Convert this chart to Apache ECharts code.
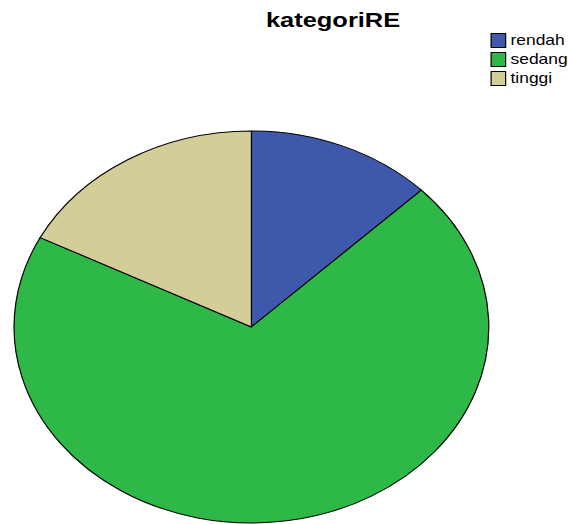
<!DOCTYPE html>
<html>
<head>
<meta charset="utf-8">
<script src="https://cdn.jsdelivr.net/npm/echarts@6/dist/echarts.min.js"></script>
<style>
html,body{margin:0;padding:0;background:#fff;overflow:hidden;width:568px;height:524px;}
#c{position:absolute;left:0;top:0;width:469px;height:524px;transform:scaleX(1.2111);transform-origin:0 0;}
</style>
</head>
<body>
<div id="c"></div>
<script>
const titleText = 'kategoriRE';
const categories = ['rendah', 'sedang', 'tinggi'];
const values = [8, 44, 11];
const colors = ['#3E58AC', '#2EB848', '#D3CE97'];

const chart = echarts.init(document.getElementById('c'), null, {renderer: 'svg', width: 469, height: 524});
chart.setOption({
  animation: false,
  title: {
    text: titleText,
    left: 270, top: 4,
    textAlign: 'center',
    textStyle: {fontFamily: 'Liberation Sans, Arial, sans-serif', fontWeight: 'bold', fontSize: 21, color: '#000'}
  },
  legend: {
    orient: 'vertical',
    left: 405, top: 33,
    itemWidth: 12, itemHeight: 14, itemGap: 4,
    icon: 'rect',
    padding: 0,
    selectedMode: false,
    textStyle: {fontFamily: 'Liberation Sans, Arial, sans-serif', fontSize: 14.4, color: '#000', padding: [0,0,0,-1]},
    itemStyle: {borderColor: '#000', borderWidth: 1},
    data: categories
  },
  series: [{
    type: 'pie',
    center: [207.6, 327],
    radius: 196,
    startAngle: 90,
    clockwise: true,
    silent: true,
    label: {show: false},
    labelLine: {show: false},
    itemStyle: {borderColor: '#000', borderWidth: 1},
    data: categories.map((c, i) => ({name: c, value: values[i], itemStyle: {color: colors[i]}}))
  }]
});
</script>
</body>
</html>
